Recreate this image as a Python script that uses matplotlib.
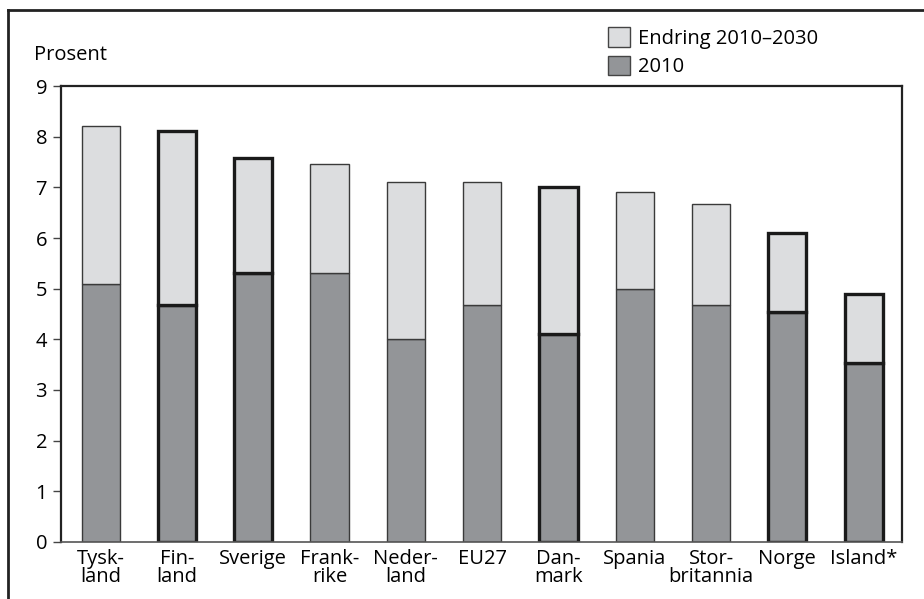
import matplotlib.pyplot as plt
from matplotlib.lines import Line2D
from matplotlib.patches import Patch
import numpy as np

plt.rcParams['font.family'] = ['Open Sans', 'DejaVu Sans']

# land, nivaa 2010 og totalt 2030 (prosent)
countries = ["Tysk-\nland", "Fin-\nland", "Sverige", "Frank-\nrike", "Neder-\nland", "EU27",
             "Dan-\nmark", "Spania", "Stor-\nbritannia", "Norge", "Island*"]
level_2010 = [5.1, 4.68, 5.31, 5.31, 4.0, 4.68, 4.1, 5.0, 4.68, 4.53, 3.53]
total_2030 = [8.22, 8.11, 7.58, 7.47, 7.1, 7.1, 7.0, 6.9, 6.68, 6.1, 4.89]
nordic = [False, True, True, False, False, False, True, False, False, True, True]

change = np.array(total_2030) - np.array(level_2010)

light = "#dcdddf"
dark = "#939598"
fs = 14.5

fig = plt.figure(figsize=(9.24, 5.99), dpi=100)
ax = fig.add_axes([0.066, 0.0952, 0.91, 0.7612])

x = np.arange(len(countries))
for i in x:
    if nordic[i]:
        ec, lw = "#1a1a1a", 2.4
    else:
        ec, lw = "#3a3a3a", 1.0
    ax.bar(i, level_2010[i], width=0.5, color=dark, edgecolor=ec, linewidth=lw, zorder=2)
    ax.bar(i, change[i], bottom=level_2010[i], width=0.5, color=light, edgecolor=ec,
           linewidth=lw, zorder=2)

ax.set_xlim(-0.52, 10.5)
ax.set_ylim(0, 9)
ax.set_yticks(range(0, 10))
ax.set_xticks(x)
ax.set_xticklabels(countries, fontsize=fs, linespacing=0.88)
ax.tick_params(axis='x', length=0, pad=5)
ax.tick_params(axis='y', labelsize=fs, length=6, width=1, color="#444444", pad=4)
for s in ax.spines.values():
    s.set_linewidth(1.6)
    s.set_color("#222222")
ax.spines['bottom'].set_color("#555555")
ax.spines['bottom'].set_linewidth(1.2)

fig.text(0.037, 0.908, "Prosent", fontsize=fs, va='center', ha='left')

handles = [Patch(facecolor=light, edgecolor="#444444", linewidth=1.0, label="Endring 2010–2030"),
           Patch(facecolor=dark, edgecolor="#444444", linewidth=1.0, label="2010")]
fig.legend(handles=handles, loc='upper left', bbox_to_anchor=(0.643, 0.978), frameon=False,
           fontsize=fs, handlelength=1.1, handleheight=1.1, handletextpad=0.4,
           labelspacing=0.35, borderpad=0.2)

# ytre ramme
fig.add_artist(Line2D([0.009, 1.0], [0.983, 0.983], color="#222222", linewidth=2.0))
fig.add_artist(Line2D([0.009, 0.009], [0.0, 0.983], color="#222222", linewidth=2.0))

fig.savefig("out.png", dpi=100)
